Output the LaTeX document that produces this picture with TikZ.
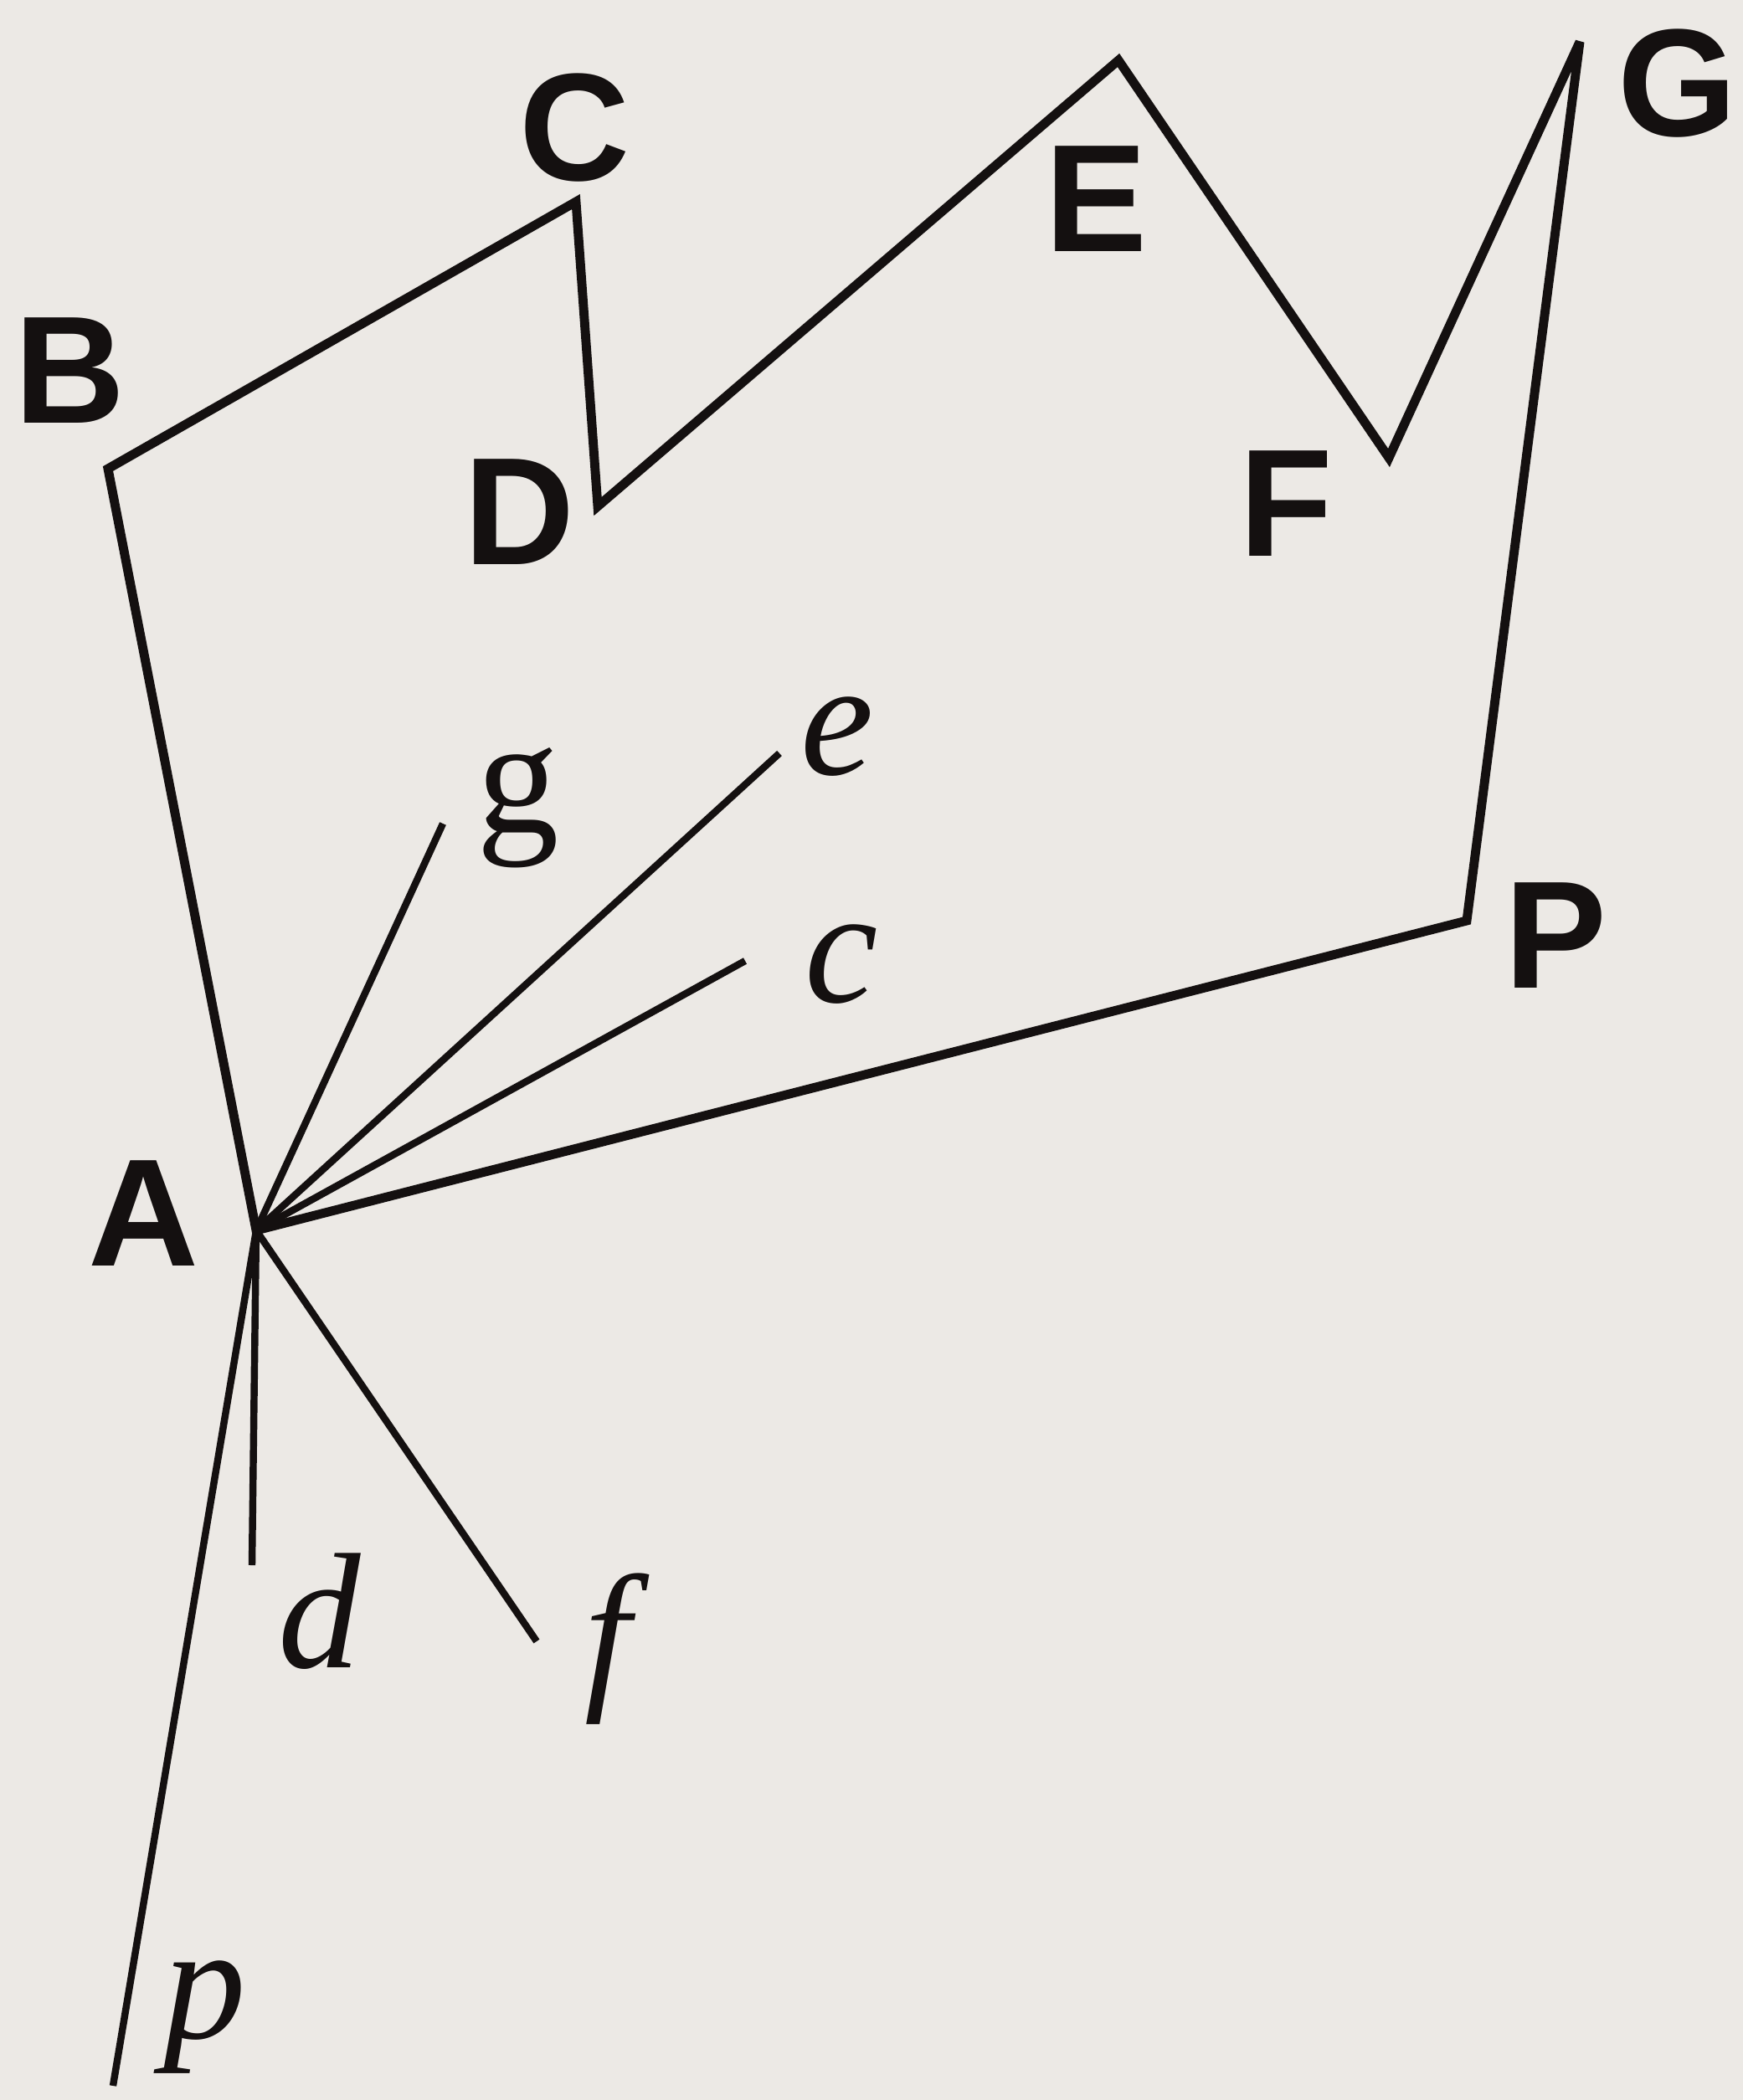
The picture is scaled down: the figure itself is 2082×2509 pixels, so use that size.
\documentclass[tikz,border=0pt]{standalone}
\usepackage{fontspec}
\setmainfont{Liberation Serif}
\newfontfamily\capfont{Liberation Sans}
\definecolor{paper}{RGB}{236,233,229}
\definecolor{ink}{RGB}{20,16,16}
\begin{document}
\begin{tikzpicture}[x=0.01cm,y=-0.01cm,
  poly/.style={draw=ink,line width=3.1pt,line join=miter,miter limit=2.5},
  ray/.style={draw=ink,line width=2.4pt},
  caplab/.style={font=\capfont\bfseries\fontsize{52}{52}\selectfont,text=ink,inner sep=0pt},
  lowlab/.style={font=\itshape\fontsize{56}{56}\selectfont,text=ink,inner sep=0pt},
  uplab/.style={font=\fontsize{56}{56}\selectfont,text=ink,inner sep=0pt}]
\fill[paper] (0,0) rectangle (2082,2509);
\useasboundingbox (0,0) rectangle (2082,2509);
% vertices
\coordinate (A) at (306,1470);
\coordinate (B) at (129,560);
\coordinate (C) at (688,241);
\coordinate (D) at (714,605);
\coordinate (E) at (1336,72);
\coordinate (F) at (1659,547);
\coordinate (G) at (1887,50);
\coordinate (P) at (1752,1100);
% ray ends
\coordinate (g) at (529,984);
\coordinate (e) at (931,900);
\coordinate (c) at (890,1148);
\coordinate (d) at (301,1870);
\coordinate (f) at (641,1961);
\coordinate (p) at (135,2492);
% polygon
\draw[poly] (A) -- (B) -- (C) -- (D) -- (E) -- (F) -- (G) -- (P) -- cycle;
% rays
\draw[ray] (A) -- (g);
\draw[ray] (A) -- (e);
\draw[ray] (A) -- (c);
\draw[ray] (A) -- (d);
\draw[ray] (A) -- (f);
\draw[ray] (A) -- (p);
% labels
\node[caplab] (lA) at (172,1450) {A};
\node[caplab] (lB) at (84,443) {B};
\node[caplab] (lC) at (687,153) {C};
\node[caplab] (lD) at (621,612) {D};
\node[caplab] (lE) at (1309,238) {E};
\node[caplab] (lF) at (1536,602) {F};
\node[caplab] (lG) at (2004,100) {G};
\node[caplab] (lP) at (1858,1118) {P};
\node[uplab] (lg) at (619,965) {g};
\node[lowlab] (le) at (1000,880) {e};
\node[lowlab] (lc) at (1005,1152) {c};
\node[lowlab] (ld) at (382,1925) {d};
\node[lowlab] (lf) at (726,1970) {f};
\node[lowlab] (lp) at (245,2410) {p};
\end{tikzpicture}
\end{document}
